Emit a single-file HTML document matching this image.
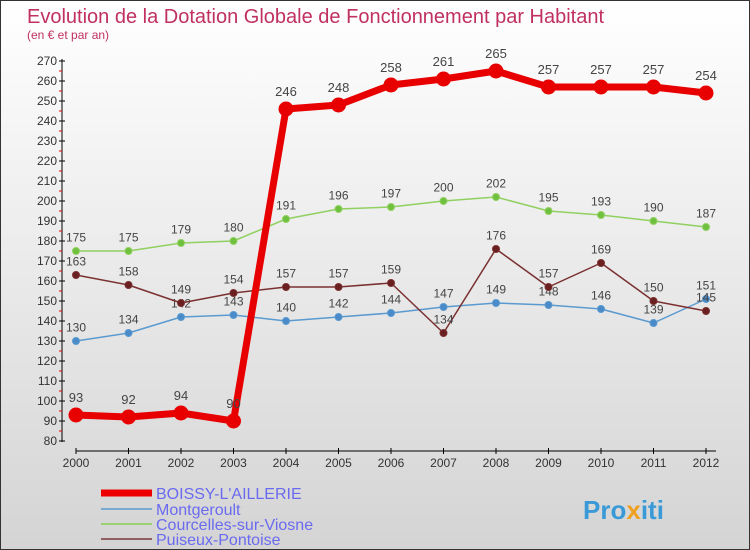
<!DOCTYPE html>
<html><head><meta charset="utf-8"><style>
body{margin:0}
#c{position:relative;width:748px;height:548px;border:1px solid #333;background:linear-gradient(#fff,#d4d4d4);font-family:"Liberation Sans",sans-serif;overflow:hidden}
</style></head><body>
<div id="c">
<svg id="s" width="748" height="548" xmlns="http://www.w3.org/2000/svg">
<text x="26" y="22" font-size="20" fill="#c03060">Evolution de la Dotation Globale de Fonctionnement par Habitant</text>
<text x="26" y="38" font-size="12" fill="#c03060">(en € et par an)</text>
<g id="ax"></g><g id="ser"></g>
<g>
<line x1="100" y1="492" x2="151" y2="492" stroke="#e00" stroke-width="7"/>
<text x="155" y="498" font-size="16" fill="#6a6af0">BOISSY-L'AILLERIE</text>
<line x1="100" y1="508" x2="151" y2="508" stroke="#7aaad0" stroke-width="2"/>
<text x="155" y="514" font-size="16" fill="#6a6af0">Montgeroult</text>
<line x1="100" y1="523" x2="151" y2="523" stroke="#99d070" stroke-width="2"/>
<text x="155" y="529" font-size="16" fill="#6a6af0">Courcelles-sur-Viosne</text>
<line x1="100" y1="538" x2="151" y2="538" stroke="#906060" stroke-width="2"/>
<text x="155" y="544" font-size="16" fill="#6a6af0">Puiseux-Pontoise</text>
</g>
<text x="582" y="518" font-size="26" font-weight="bold" fill="#3a9ad8">Pro<tspan fill="#f0a020">x</tspan>iti</text>
</svg></div>
<script>
const years=[2000,2001,2002,2003,2004,2005,2006,2007,2008,2009,2010,2011,2012];
const boissy=[93,92,94,90,246,248,258,261,265,257,257,257,254];
const montgeroult=[130,134,142,143,140,142,144,147,149,148,146,139,151];
const courcelles=[175,175,179,180,191,196,197,200,202,195,193,190,187];
const puiseux=[163,158,149,154,157,157,159,134,176,157,169,150,145];
const yTicks=[80,90,100,110,120,130,140,150,160,170,180,190,200,210,220,230,240,250,260,270];
const NS="http://www.w3.org/2000/svg";
const xs=i=>75+i*52.5, ys=v=>60+(270-v)*2;
function mk(t,a,p){const e=document.createElementNS(NS,t);for(const k in a)e.setAttribute(k,a[k]);p.appendChild(e);return e;}
const ax=document.getElementById('ax');
let l=mk('line',{x1:61,y1:58,x2:61,y2:441,stroke:'#000'},ax);


l=mk('line',{x1:75,y1:450,x2:715,y2:450,stroke:'#000'},ax);


yTicks.forEach(v=>{const y=ys(v);
 mk('line',{x1:58,y1:y,x2:64,y2:y,stroke:'#000'},ax);
 if(v<270)mk('line',{x1:58,y1:y-10,x2:61,y2:y-10,stroke:'#e00'},ax);
 const t=mk('text',{x:56,y:y+4,'font-size':12,fill:'#333','text-anchor':'end'},ax);t.textContent=v;
 
 });
years.forEach((yr,i)=>{const x=xs(i);
 mk('line',{x1:x,y1:447,x2:x,y2:453,stroke:'#000'},ax);
 const t=mk('text',{x:x,y:466,'font-size':12,fill:'#333','text-anchor':'middle'},ax);t.textContent=yr;
 
 });
const ser=document.getElementById('ser');
function draw(d,name,col,dot,w,r,fs){
 const g=mk('g',{},ser);
 
 
 mk('polyline',{points:d.map((v,i)=>xs(i)+','+ys(v)).join(' '),fill:'none',stroke:col,'stroke-width':w,'stroke-linejoin':'round'},g);
 d.forEach((v,i)=>{const c=mk('circle',{cx:xs(i),cy:ys(v),r:r,fill:dot,stroke:col,'stroke-width':1},g);
  
  
  const t=mk('text',{x:xs(i),y:ys(v)-(r+6),'font-size':fs,fill:'#444','text-anchor':'middle'},g);t.textContent=v;
  
  });
}
draw(montgeroult,'montgeroult','#5a9ad0','#4a8ac8',1.5,3.5,12);
draw(courcelles,'courcelles','#90d060','#70c040',1.5,3.5,12);
draw(puiseux,'puiseux','#7a3030','#6a2020',1.5,3.5,12);
draw(boissy,'boissy','#e80000','#e80000',7,7,13);
</script>
</body></html>
